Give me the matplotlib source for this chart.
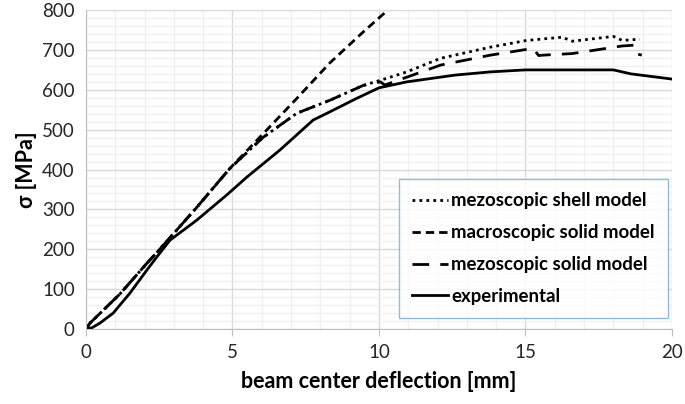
import numpy as np
import matplotlib.pyplot as plt
from matplotlib.ticker import MultipleLocator

plt.rcParams['font.family'] = ['Lato', 'DejaVu Sans']

# experimental
x_exp = [0, 0.2, 0.48, 0.93, 1.5, 2.08, 2.42, 2.87, 3.78, 4.8, 5.49, 6.62, 7.75, 8.33, 9.25,
         10.0, 10.95, 12.6, 13.8, 15.0, 18.0, 18.6, 20.0]
s_exp = [0, 3, 15, 40, 90, 148, 181, 223, 273, 336, 381, 449, 524, 545, 579,
         605, 620, 637, 645, 650, 650, 640, 627]

# macroscopic solid model
x_mac = [0, 0.14, 1.16, 2.08, 2.42, 3.78, 4.9, 6.05, 7.19, 8.33, 9.46, 10.3]
s_mac = [0, 15, 88, 165, 192, 305, 402, 490, 578, 668, 745, 800]

# mezoscopic solid model
x_mzs = [0, 0.14, 1.16, 2.08, 2.42, 3.78, 4.9, 6.05, 7.19, 8.33, 9.46, 10.05, 10.2,
         12.1, 13.8, 15.26, 15.45, 15.6, 16.6, 18.3, 18.7, 18.8, 18.97]
s_mzs = [0, 15, 88, 165, 192, 305, 402, 481, 541, 574, 611, 620, 612,
         662, 687, 704, 686, 687, 691, 710, 712, 690, 687]

# mezoscopic shell model
x_shl = [0, 0.14, 1.16, 2.08, 2.42, 3.78, 4.9, 6.05, 7.19, 8.33, 9.46, 10.05, 10.95,
         12.1, 13.8, 15.05, 16.25, 16.6, 18.0, 18.3, 18.9]
s_shl = [0, 15, 88, 165, 192, 305, 402, 481, 541, 574, 611, 624, 645,
         679, 707, 724, 732, 722, 734, 724, 727]

fig = plt.figure(figsize=(6.85, 4.04), dpi=100)
ax = fig.add_axes([0.1255, 0.1856, 0.8555, 0.7894])

ax.plot(x_shl, s_shl, color='black', lw=2, linestyle=(0, (1, 1.5)), label='mezoscopic shell model')
ax.plot(x_mac, s_mac, color='black', lw=2, linestyle=(0, (3, 1.8)), label='macroscopic solid model')
ax.plot(x_mzs, s_mzs, color='black', lw=2, linestyle=(0, (6, 4)), label='mezoscopic solid model')
ax.plot(x_exp, s_exp, color='black', lw=2, linestyle='-', label='experimental')

ax.set_xlim(0, 20)
ax.set_ylim(0, 800)
ax.xaxis.set_major_locator(MultipleLocator(5))
ax.xaxis.set_minor_locator(MultipleLocator(1))
ax.yaxis.set_major_locator(MultipleLocator(100))
ax.yaxis.set_minor_locator(MultipleLocator(20))
ax.grid(which='major', color='#D9D9D9', lw=1)
ax.grid(which='minor', color='#F0F0F0', lw=1)
ax.set_axisbelow(True)

for sp in ['top', 'right']:
    ax.spines[sp].set_visible(False)
for sp in ['left', 'bottom']:
    ax.spines[sp].set_color('#BFBFBF')
ax.tick_params(axis='x', which='major', length=5, color='#BFBFBF', labelsize=13.5, pad=6)
ax.tick_params(axis='y', which='major', length=0, labelsize=13.5, pad=8)
ax.tick_params(which='minor', length=0)
for lab in ax.get_xticklabels() + ax.get_yticklabels():
    lab.set_color('#262626')

ax.set_xlabel('beam center deflection [mm]', fontsize=15.5, fontweight='bold', labelpad=7)
ax.set_ylabel('σ [MPa]', fontsize=15.5, fontweight='bold', labelpad=4)

leg = ax.legend(loc='lower right', bbox_to_anchor=(0.993, 0.0345), borderaxespad=0,
                prop={'weight': 'bold', 'size': 13.4}, frameon=True, fancybox=False,
                handlelength=1.9, handletextpad=0.2, labelspacing=0.8, borderpad=0.7)
leg.get_frame().set_edgecolor('#7AAAD8')
leg.get_frame().set_linewidth(1)

fig.savefig('out.png', dpi=100)
